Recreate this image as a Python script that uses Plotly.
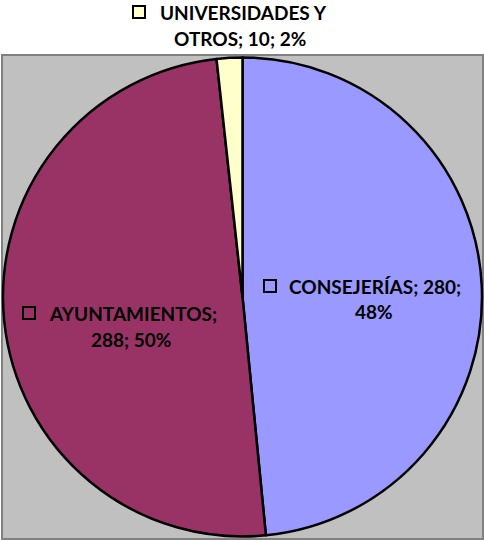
import plotly.graph_objects as go

labels = ["CONSEJERÍAS", "AYUNTAMIENTOS", "UNIVERSIDADES Y OTROS"]
values = [280, 288, 10]
colors = ["#9999FF", "#993366", "#FFFFCC"]

total = sum(values)
pcts = [round(v * 100 / total) for v in values]
# data label lines as wrapped in the original
line1 = [f"{labels[0]}; {values[0]};", f"{labels[1]};", "UNIVERSIDADES Y"]
line2 = [f"{pcts[0]}%", f"{values[1]}; {pcts[1]}%", f"OTROS; {values[2]}; {pcts[2]}%"]

# layout (pixel) positions of the labels
sq_pos = [(263, 279), (22, 306), (132, 5)]        # key square top-left
l1_pos = [(287, 285.5), (47, 312.5), (158, 11.5)]  # line 1 left x, cap-centre y
l2_pos = [(374, 311.5), (131, 338.5), (239.5, 38.5)]  # line 2 centre x, cap-centre y

W, H = 484, 540
FONT = dict(family="Lato, Liberation Sans, sans-serif", size=19, color="black")
DY = 0.5  # cap centre vs box centre correction


def px(x):
    return x / W


def py(y):
    return (H - y) / H


fig = go.Figure(go.Pie(
    labels=labels,
    values=values,
    marker=dict(colors=colors, line=dict(color="black", width=2.5)),
    sort=False,
    direction="clockwise",
    rotation=0,
    textinfo="none",
    hoverinfo="label+value+percent",
    domain=dict(x=[px(3), px(482)], y=[py(537), py(57)]),
    showlegend=False,
))

shapes = [dict(type="rect", xref="paper", yref="paper",
               x0=px(2), x1=px(483), y0=py(539), y1=py(55),
               fillcolor="#C0C0C0", line=dict(color="#808080", width=2),
               layer="below")]
annotations = []
for i in range(3):
    sx, sy = sq_pos[i]
    shapes.append(dict(type="rect", xref="paper", yref="paper",
                       x0=px(sx + 1), x1=px(sx + 13), y0=py(sy + 13), y1=py(sy + 1),
                       fillcolor=colors[i], line=dict(color="black", width=2),
                       layer="above"))
    x1, y1 = l1_pos[i]
    annotations.append(dict(text=f"<b>{line1[i]}</b>", x=px(x1), y=py(y1 + DY),
                            xref="paper", yref="paper", showarrow=False,
                            xanchor="left", yanchor="middle", font=FONT))
    x2, y2 = l2_pos[i]
    annotations.append(dict(text=f"<b>{line2[i]}</b>", x=px(x2), y=py(y2 + DY),
                            xref="paper", yref="paper", showarrow=False,
                            xanchor="center", yanchor="middle", font=FONT))

fig.update_layout(
    width=W, height=H,
    margin=dict(l=0, r=0, t=0, b=0),
    paper_bgcolor="white",
    shapes=shapes,
    annotations=annotations,
)

fig.write_html("out.html", config={"displayModeBar": False},
               post_script="document.body.style.margin='0';")
